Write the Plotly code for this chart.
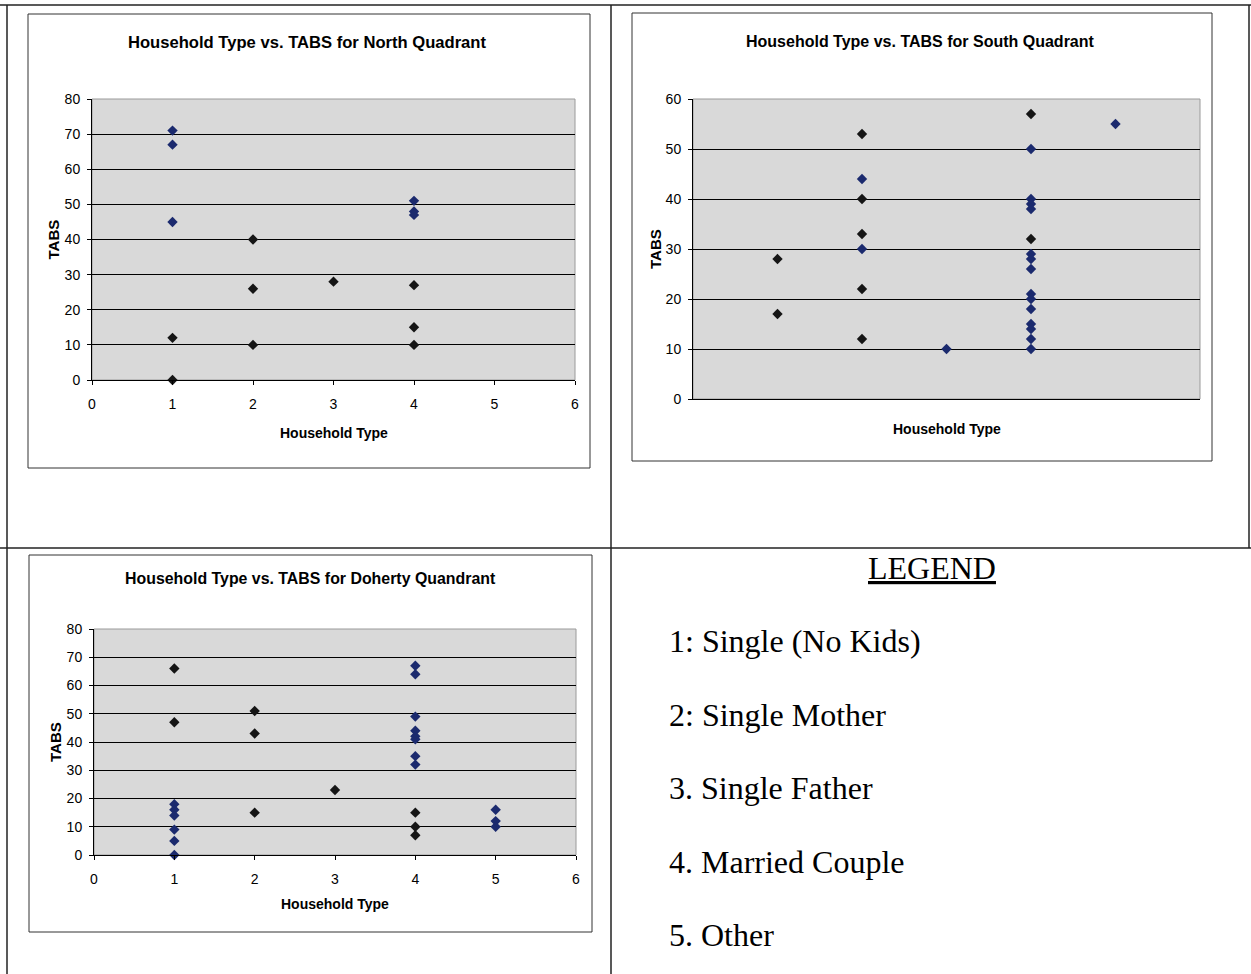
import plotly.graph_objects as go

W, H = 1251, 974

# ---------------- data ----------------
north_blue_x = [1, 1, 1, 4, 4, 4]
north_blue_y = [71, 67, 45, 51, 48, 47]
north_black_x = [1, 1, 2, 2, 2, 3, 4, 4, 4]
north_black_y = [12, 0, 40, 26, 10, 28, 27, 15, 10]

south_blue_x = [2, 2, 3, 4, 4, 4, 4, 4, 4, 4, 4, 4, 4, 4, 4, 4, 4, 5]
south_blue_y = [44, 30, 10, 50, 40, 39, 38, 29, 28, 26, 21, 20, 18, 15, 14, 12, 10, 55]
south_black_x = [1, 1, 2, 2, 2, 2, 2, 4, 4]
south_black_y = [28, 17, 53, 40, 33, 22, 12, 57, 32]

doherty_blue_x = [1, 1, 1, 1, 1, 1, 4, 4, 4, 4, 4, 4, 4, 4, 5, 5, 5]
doherty_blue_y = [18, 16, 14, 9, 5, 0, 67, 64, 49, 44, 42, 41, 35, 32, 16, 12, 10]
doherty_black_x = [1, 1, 2, 2, 2, 3, 4, 4, 4]
doherty_black_y = [66, 47, 51, 43, 15, 23, 15, 10, 7]

titles = ["Household Type vs. TABS for North Quadrant",
          "Household Type vs. TABS for South Quadrant",
          "Household Type vs. TABS for Doherty Quandrant"]
x_title = "Household Type"
y_title = "TABS"
legend_title = "LEGEND"
legend_items = ["1: Single (No Kids)", "2: Single Mother", "3. Single Father",
                "4. Married Couple", "5. Other"]

# ---------------- helpers ----------------
def px(x):
    return x / W

def py(y):
    return 1 - y / H

BLUE = "#1b2a6e"
BLACK = "#151515"
BG = "#d9d9d9"
FONT = "Liberation Sans, Arial, sans-serif"
SERIF = "Liberation Serif, Times New Roman, serif"

fig = go.Figure()

charts = [
    dict(box=(92, 99, 575, 380), ymax=80, xlabels=True,
         data=(north_blue_x, north_blue_y, north_black_x, north_black_y),
         frame=(28, 14, 590, 468), title_xy=(307, 42), title_size=16.6, xt_y=433, yt_x=53),
    dict(box=(693, 99, 1200, 399), ymax=60, xlabels=False,
         data=(south_blue_x, south_blue_y, south_black_x, south_black_y),
         frame=(632, 13, 1212, 461), title_xy=(920, 41), title_size=16, xt_y=429, yt_x=655),
    dict(box=(94, 629, 576, 855), ymax=80, xlabels=True,
         data=(doherty_blue_x, doherty_blue_y, doherty_black_x, doherty_black_y),
         frame=(29, 555, 592, 932), title_xy=(310, 578), title_size=15.9, xt_y=904, yt_x=55),
]

shapes = []
annotations = []

for i, c in enumerate(charts):
    n = "" if i == 0 else str(i + 1)
    x0, y0, x1, y1 = c["box"]
    bx, by, kx, ky = c["data"]
    fig.add_trace(go.Scatter(x=bx, y=by, mode="markers", xaxis="x" + n, yaxis="y" + n,
                             marker=dict(symbol="diamond", size=8, color=BLUE),
                             showlegend=False, cliponaxis=False))
    fig.add_trace(go.Scatter(x=kx, y=ky, mode="markers", xaxis="x" + n, yaxis="y" + n,
                             marker=dict(symbol="diamond", size=8, color=BLACK),
                             showlegend=False, cliponaxis=False))
    fig.layout["xaxis" + n] = dict(
        domain=[px(x0), px(x1)], anchor="y" + n, range=[0, 6], dtick=1, automargin=False,
        showgrid=False, zeroline=False, showline=True, linecolor="black", linewidth=1,
        ticks="outside" if c["xlabels"] else "", ticklen=4, tickcolor="black",
        ticklabelstandoff=7,
        showticklabels=c["xlabels"], tickfont=dict(family=FONT, size=14, color="black"),
        fixedrange=True)
    fig.layout["yaxis" + n] = dict(
        domain=[py(y1), py(y0)], anchor="x" + n, range=[0, c["ymax"]], dtick=10,
        automargin=False,
        showgrid=True, gridcolor="black", gridwidth=1, zeroline=False,
        showline=True, linecolor="black", linewidth=1,
        ticks="outside", ticklen=4, tickcolor="black", ticklabelstandoff=4,
        tickfont=dict(family=FONT, size=14, color="black"), fixedrange=True)
    shapes.append(dict(type="rect", xref="paper", yref="paper", layer="below",
                       x0=px(x0), x1=px(x1), y0=py(y1), y1=py(y0),
                       fillcolor=BG, line=dict(color="#9a9a9a", width=1)))
    fx0, fy0, fx1, fy1 = c["frame"]
    shapes.append(dict(type="rect", xref="paper", yref="paper", layer="below",
                       x0=px(fx0), x1=px(fx1), y0=py(fy1), y1=py(fy0),
                       fillcolor="rgba(0,0,0,0)", line=dict(color="#333333", width=1)))
    tx, ty = c["title_xy"]
    annotations.append(dict(text="<b>" + titles[i] + "</b>", x=px(tx), y=py(ty),
                            xref="paper", yref="paper", showarrow=False,
                            xanchor="center", yanchor="middle",
                            font=dict(family=FONT, size=c["title_size"], color="black")))
    annotations.append(dict(text="<b>" + x_title + "</b>", x=px((x0 + x1) / 2), y=py(c["xt_y"]),
                            xref="paper", yref="paper", showarrow=False,
                            xanchor="center", yanchor="middle",
                            font=dict(family=FONT, size=14, color="black")))
    annotations.append(dict(text="<b>" + y_title + "</b>", x=px(c["yt_x"]), y=py((y0 + y1) / 2),
                            xref="paper", yref="paper", showarrow=False, textangle=-90,
                            xanchor="center", yanchor="middle",
                            font=dict(family=FONT, size=15, color="black")))

def line(xa, ya, xb, yb, w=1.5, col="#222222"):
    shapes.append(dict(type="line", xref="paper", yref="paper",
                       x0=px(xa), y0=py(ya), x1=px(xb), y1=py(yb),
                       line=dict(color=col, width=w)))

line(0, 5, 1251, 5)
line(7, 5, 7, 974)
line(611, 5, 611, 974)
line(1249, 5, 1249, 548)
line(0, 548, 1251, 548)

annotations.append(dict(text="<u>" + legend_title + "</u>", x=px(932), y=py(568),
                        xref="paper", yref="paper", showarrow=False,
                        xanchor="center", yanchor="middle",
                        font=dict(family=SERIF, size=32, color="black")))
for k, item in enumerate(legend_items):
    annotations.append(dict(text=item, x=px(667), y=py(641 + k * 73.5),
                            xref="paper", yref="paper", showarrow=False,
                            xanchor="left", yanchor="middle",
                            font=dict(family=SERIF, size=32, color="black")))

fig.update_layout(template="none", width=W, height=H, margin=dict(l=0, r=0, t=0, b=0, autoexpand=False),
                  paper_bgcolor="white", plot_bgcolor="rgba(0,0,0,0)",
                  shapes=shapes, annotations=annotations, showlegend=False)

fig.write_html("out.html", config={"displayModeBar": False})
